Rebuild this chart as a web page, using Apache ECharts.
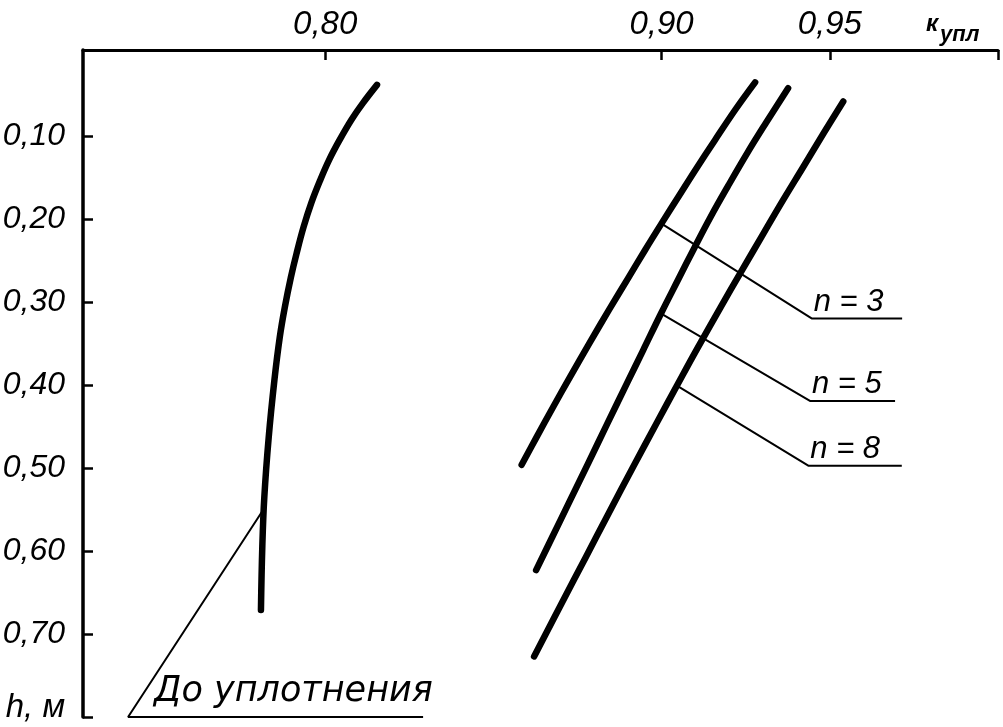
<!DOCTYPE html>
<html><head><meta charset="utf-8">
<script src="https://cdn.jsdelivr.net/npm/echarts@6/dist/echarts.min.js"></script>
<style>html,body{margin:0;padding:0;background:#fff}#c{width:1003px;height:727px}</style>
</head><body><div id="c"></div>
<script>
// Tick labels
const xTickValues = [0.80, 0.90, 0.95];
const yTickValues = [0.10, 0.20, 0.30, 0.40, 0.50, 0.60, 0.70, 0.80];
const yAxisName = 'h, м';
const xAxisNameMain = 'к';
const xAxisNameSub = 'упл';

// Series names
const nameBefore = 'До уплотнения';
const nameN3 = 'n = 3';
const nameN5 = 'n = 5';
const nameN8 = 'n = 8';

// Curves: [k_упл, h]
const before = [[0.8154,0.038],[0.8112,0.060],[0.8078,0.080],[0.8042,0.105],[0.8011,0.129],[0.7985,0.153],[0.7959,0.180],[0.7936,0.209],[0.7915,0.241],[0.7898,0.270],[0.7880,0.306],[0.7865,0.342],[0.7849,0.394],[0.7832,0.463],[0.7819,0.535],[0.7813,0.595],[0.7809,0.671]];
const n3 = [[0.9278,0.035],[0.9219,0.068],[0.9158,0.105],[0.9100,0.141],[0.9050,0.173],[0.9000,0.205],[0.8951,0.237],[0.8902,0.270],[0.8844,0.309],[0.8786,0.349],[0.8728,0.390],[0.8678,0.426],[0.8628,0.463],[0.8584,0.496]];
const n5 = [[0.9376,0.042],[0.9310,0.084],[0.9255,0.120],[0.9196,0.161],[0.9146,0.197],[0.9098,0.234],[0.9049,0.273],[0.8999,0.313],[0.8945,0.358],[0.8898,0.397],[0.8839,0.446],[0.8782,0.494],[0.8729,0.538],[0.8675,0.583],[0.8627,0.623]];
const n8 = [[0.9540,0.058],[0.9482,0.096],[0.9421,0.137],[0.9361,0.177],[0.9303,0.217],[0.9234,0.265],[0.9177,0.305],[0.9103,0.358],[0.9049,0.398],[0.8985,0.446],[0.8916,0.498],[0.8842,0.555],[0.8775,0.607],[0.8703,0.663],[0.8621,0.727]];

// Leader lines for labels (curve point, bend, end of underline)
const leaderBefore = [[0.7812,0.5525],[0.7414,0.800],[0.8291,0.800]];
const leaderN3 = [[0.8995,0.204],[0.9446,0.3195],[0.9715,0.3195]];
const leaderN5 = [[0.8995,0.313],[0.9441,0.419],[0.9694,0.419]];
const leaderN8 = [[0.9043,0.400],[0.9436,0.497],[0.9714,0.497]];

const numFont = "'Liberation Sans','DejaVu Sans',sans-serif";
const fmt = v => v.toFixed(2).replace('.', ',');

const chart = echarts.init(document.getElementById('c'), null, {renderer: 'canvas'});

function curve(name, data) {
  return {
    name: name, type: 'line', data: data, smooth: 0.4, showSymbol: false, silent: true,
    lineStyle: {color: '#000', width: 6.5, cap: 'round', join: 'round'}, z: 3
  };
}
function leader(data) {
  return {
    type: 'line', data: data, smooth: false, showSymbol: false, silent: true, clip: false,
    lineStyle: {color: '#000', width: 2}, z: 2
  };
}

chart.setOption({
  backgroundColor: '#fff',
  animation: false,
  grid: {left: 83, top: 50, width: 915, height: 667, containLabel: false, outerBoundsMode: 'none'},
  xAxis: {
    type: 'value', position: 'top', min: 0.728, max: 1.0,
    splitLine: {show: false},
    axisLine: {show: true, onZero: false, lineStyle: {color: '#000', width: 3}},
    axisTick: {show: true, inside: true, length: 10, customValues: [0.80, 0.90, 0.95, 1.0], lineStyle: {color: '#000', width: 2.5}},
    axisLabel: {
      show: true, customValues: xTickValues, formatter: v => fmt(v),
      color: '#000', fontSize: 33, fontStyle: 'italic', fontFamily: numFont, margin: 9
    }
  },
  yAxis: {
    type: 'value', inverse: true, min: -0.004, max: 0.8,
    splitLine: {show: false},
    axisLine: {show: true, onZero: false, lineStyle: {color: '#000', width: 3.5}},
    axisTick: {show: true, inside: true, length: 10, customValues: yTickValues, lineStyle: {color: '#000', width: 2.5}},
    axisLabel: {
      show: true, customValues: yTickValues,
      formatter: v => (v > 0.79 ? '{h|' + yAxisName + '}' : fmt(v)),
      color: '#000', fontSize: 32, fontStyle: 'italic', fontFamily: numFont, margin: 18,
      rich: {h: {fontSize: 33, fontStyle: 'italic', fontFamily: numFont, color: '#000', padding: [0, 0, 18, 0]}}
    }
  },
  series: [
    leader(leaderBefore), leader(leaderN3), leader(leaderN5), leader(leaderN8),
    curve(nameBefore, before), curve(nameN3, n3), curve(nameN5, n5), curve(nameN8, n8)
  ]
});

const px = p => chart.convertToPixel({gridIndex: 0}, p);
const bB = px(leaderBefore[1]);
const b3 = px(leaderN3[1]);
const b5 = px(leaderN5[1]);
const b8 = px(leaderN8[1]);
const labelStyle = {fill: '#000', fontSize: 31, fontStyle: 'italic', fontFamily: "'Liberation Sans','DejaVu Sans',sans-serif", textVerticalAlign: 'bottom'};
function withText(t, extra) { return Object.assign({}, labelStyle, {text: t}, extra || {}); }
chart.setOption({
  graphic: [
    {type: 'text', x: bB[0] + 26, y: bB[1] - 8, style: withText(nameBefore, {fontSize: 35, fontFamily: "'DejaVu Sans',sans-serif"})},
    {type: 'text', x: b3[0] + 2, y: b3[1] - 1, style: withText(nameN3)},
    {type: 'text', x: b5[0] + 2, y: b5[1] - 1, style: withText(nameN5)},
    {type: 'text', x: b8[0] + 2, y: b8[1] - 1, style: withText(nameN8)},
    {type: 'text', x: 926, y: 12, style: {text: xAxisNameMain, fill: '#000', fontSize: 24, fontStyle: 'italic', fontWeight: 'bold', fontFamily: "'Liberation Sans',sans-serif"}},
    {type: 'text', x: 940, y: 24, style: {text: xAxisNameSub, fill: '#000', fontSize: 22, fontStyle: 'italic', fontWeight: 'bold', fontFamily: "'Liberation Sans',sans-serif"}}
  ]
});
</script>
</body></html>
